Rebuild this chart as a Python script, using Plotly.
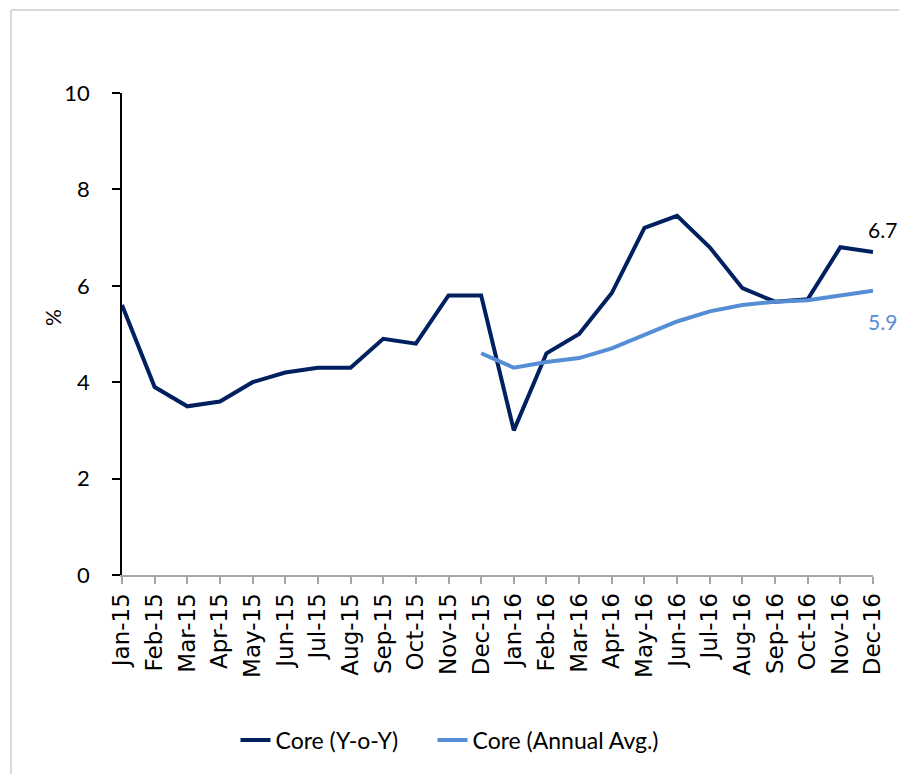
import plotly.graph_objects as go

months = ["Jan-15", "Feb-15", "Mar-15", "Apr-15", "May-15", "Jun-15", "Jul-15", "Aug-15",
          "Sep-15", "Oct-15", "Nov-15", "Dec-15", "Jan-16", "Feb-16", "Mar-16", "Apr-16",
          "May-16", "Jun-16", "Jul-16", "Aug-16", "Sep-16", "Oct-16", "Nov-16", "Dec-16"]
core_yoy = [5.6, 3.9, 3.5, 3.6, 4.0, 4.2, 4.3, 4.3, 4.9, 4.8, 5.8, 5.8,
            3.0, 4.6, 5.0, 5.85, 7.2, 7.45, 6.8, 5.95, 5.67, 5.72, 6.8, 6.7]
core_avg = [None, None, None, None, None, None, None, None, None, None, None, 4.6,
            4.3, 4.42, 4.5, 4.7, 4.97, 5.26, 5.47, 5.6, 5.67, 5.7, 5.8, 5.9]
y_ticks = [0, 2, 4, 6, 8, 10]

DARK = "#002060"
LIGHT = "#558ED5"

W, H = 899, 774
ML, MR, MT, MB = 122, 26, 93, 199

x_idx = list(range(len(months)))

NBSP = "\u00a0"
fig = go.Figure()
fig.add_trace(go.Scatter(x=x_idx, y=core_yoy, mode="lines", name="Core (Y-o-Y)" + NBSP * 5,
                         line=dict(color=DARK, width=4)))
fig.add_trace(go.Scatter(x=x_idx, y=core_avg, mode="lines", name="Core (Annual Avg.)",
                         line=dict(color=LIGHT, width=4), connectgaps=False))

fig.add_annotation(x=x_idx[-1], y=core_yoy[-1], text="6.7", showarrow=False,
                   xshift=9, yshift=23, font=dict(family="Lato", size=21, color="black"))
fig.add_annotation(x=x_idx[-1], y=core_avg[-1], text="5.9", showarrow=False,
                   xshift=9, yshift=-31, font=dict(family="Lato", size=21, color=LIGHT))

pw = W - ML - MR
ph = H - MT - MB
# y-axis title "%"
fig.add_annotation(xref="paper", yref="paper", x=(52 - ML) / pw,
                   y=(H - MB - 318) / ph, xanchor="center", yanchor="middle",
                   text="%", textangle=-90,
                   showarrow=False, font=dict(family="Lato", size=21, color="black"))

bx = (11 - ML) / pw
by = (H - MB - 10) / ph
fig.add_shape(type="line", xref="paper", yref="paper", x0=bx, x1=(W + 5 - ML) / pw, y0=by, y1=by,
              line=dict(color="#D9D9D9", width=2))
fig.add_shape(type="line", xref="paper", yref="paper", x0=bx, x1=bx, y0=by, y1=(H - MB - H - 5) / ph,
              line=dict(color="#D9D9D9", width=2))

fig.update_layout(
    width=W, height=H,
    margin=dict(l=ML, r=MR, t=MT, b=MB),
    paper_bgcolor="white", plot_bgcolor="white",
    showlegend=True,
    legend=dict(orientation="h", x=(450 - ML) / pw, xanchor="center",
                y=(H - MB - 740) / ph, yanchor="middle",
                font=dict(family="Lato", size=23, color="black")),
    xaxis=dict(tickmode="array", tickvals=x_idx, ticktext=months, range=[0, len(months) - 1],
               tickangle=-90, showgrid=False, zeroline=False,
               showline=True, linecolor="#A6A6A6", linewidth=2,
               ticks="outside", ticklen=7, tickcolor="#A6A6A6", tickwidth=1.5,
               tickfont=dict(family="DejaVu Sans", size=23, color="black")),
    yaxis=dict(range=[0, 10], tickvals=y_ticks, showgrid=False, zeroline=False,
               showline=True, linecolor="black", linewidth=1.5,
               ticks="outside", ticklen=8, tickcolor="black", tickwidth=1.5,
               ticklabelstandoff=18,
               tickfont=dict(family="Lato", size=22, color="black")),
)

fig.write_html("out.html", config={"displayModeBar": False},
               post_script="document.body.style.margin='0';")
